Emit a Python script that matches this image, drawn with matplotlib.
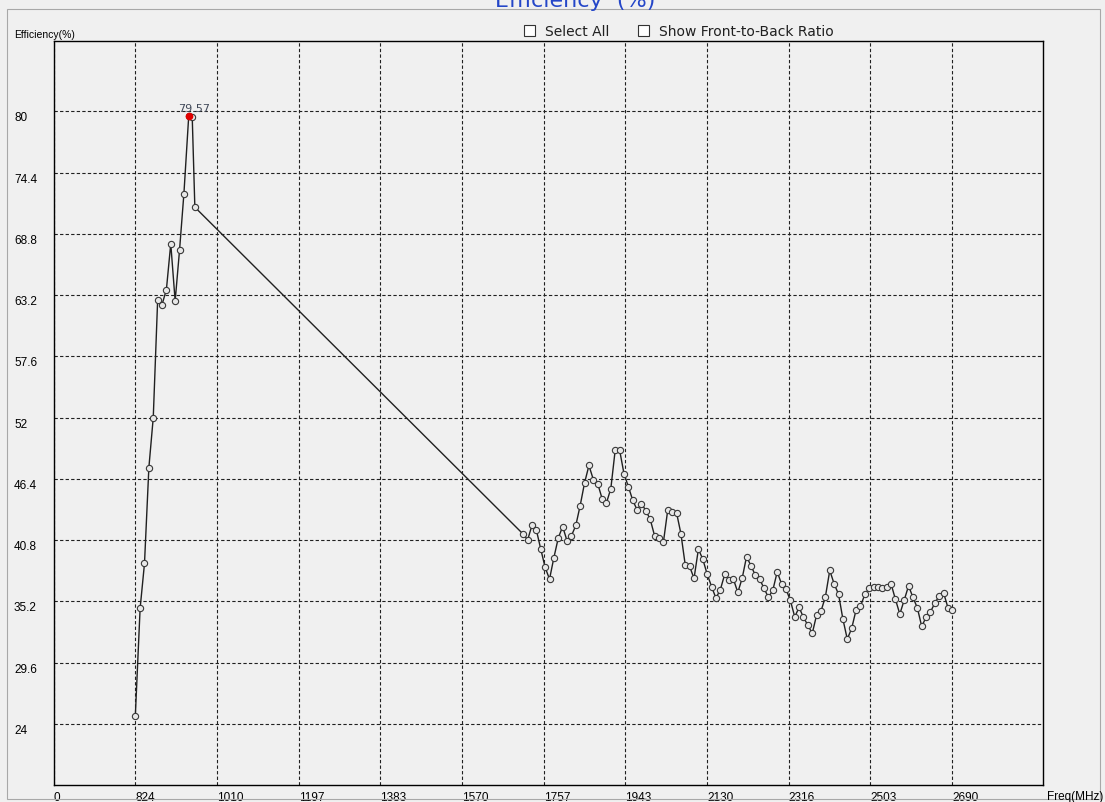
import matplotlib
matplotlib.use("Agg")
import matplotlib.pyplot as plt
from matplotlib.patches import Rectangle

# low band samples (MHz, %)
low_freq = [824, 835, 845, 855, 865, 875, 885, 895, 905, 915, 925, 935, 946, 954, 960]
low_eff = [24.7, 34.57, 38.68, 47.44, 52.0, 62.72, 62.33, 63.7, 67.9, 62.66,
           67.3, 72.47, 79.57, 79.5, 71.24]

# high band samples, 10 MHz steps from 1710 to 2690
high_freq = list(range(1710, 2691, 10))
high_eff = [41.35, 40.83, 42.17, 41.72, 39.98, 38.31, 37.24, 39.22, 41.01, 42.05,
            40.74, 41.2, 42.15, 43.97, 46.04, 47.63, 46.35, 45.98, 44.61, 44.21,
            45.52, 49.05, 49.05, 46.89, 45.7, 44.46, 43.57, 44.15, 43.5, 42.7,
            41.2, 40.96, 40.6, 43.57, 43.39, 43.33, 41.41, 38.52, 38.4, 37.31,
            39.98, 39.07, 37.7, 36.57, 35.51, 36.27, 37.67, 37.18, 37.24, 36.03,
            37.33, 39.31, 38.46, 37.61, 37.24, 36.39, 35.57, 36.24, 37.91, 36.79,
            36.33, 35.3, 33.8, 34.66, 33.74, 33.04, 32.28, 33.98, 34.32, 35.63,
            38.04, 36.81, 35.87, 33.59, 31.76, 32.74, 34.41, 34.75, 35.84, 36.39,
            36.51, 36.51, 36.42, 36.51, 36.81, 35.39, 34.05, 35.33, 36.63, 35.57,
            34.62, 32.92, 33.77, 34.26, 35.05, 35.72, 35.99, 34.62, 34.38]

peak_freq = 946
peak_eff = 79.57

x_tick_pos = [637.4, 824, 1010, 1197, 1383, 1570, 1757, 1943, 2130, 2316, 2503, 2690]
x_tick_labels = ["0", "824", "1010", "1197", "1383", "1570", "1757", "1943",
                 "2130", "2316", "2503", "2690"]
y_tick_pos = [24, 29.6, 35.2, 40.8, 46.4, 52, 57.6, 63.2, 68.8, 74.4, 80]
y_tick_labels = ["24", "29.6", "35.2", "40.8", "46.4", "52", "57.6", "63.2",
                 "68.8", "74.4", "80"]

bg = "#f0f0f0"
narrow = ["Liberation Sans Narrow", "Liberation Sans", "DejaVu Sans"]

fig = plt.figure(figsize=(11.05, 8.03), dpi=100, facecolor=bg)
ax = fig.add_axes([0.0485, 0.0208, 0.8954, 0.9265])
ax.set_facecolor(bg)

freq = low_freq + high_freq
eff = low_eff + high_eff
ax.plot(freq, eff, color="#202020", lw=1.0, marker="o", ms=4.5,
        mfc="#e8e8e8", mec="#383838", mew=0.8, zorder=3)
ax.plot([peak_freq], [peak_eff], "o", color="#e00000", ms=4.5, zorder=4)
ax.annotate(f"{peak_eff:.2f}", (peak_freq, peak_eff), xytext=(4, 2),
            textcoords="offset points", ha="center", va="bottom",
            fontsize=8, color="#404858")

ax.set_xlim(637.4, 2897)
ax.set_ylim(18.4, 86.4)

ax.set_xticks(x_tick_pos)
ax.set_xticklabels(x_tick_labels, fontsize=8.5, family=narrow, ha="left")
ax.set_yticks(y_tick_pos)
ax.set_yticklabels(y_tick_labels, fontsize=8.5, family=narrow, ha="left", va="top")
ax.tick_params(axis="x", length=0, pad=4)
ax.tick_params(axis="y", length=0, pad=28.5)

ax.grid(True, color="#202020", lw=0.8, linestyle=(0, (3, 2)))
for s in ax.spines.values():
    s.set_color("black")
    s.set_linewidth(1.0)

# panel border
fig.patches.append(Rectangle((7 / 1105, 3 / 803), 1093 / 1105, 790 / 803,
                             transform=fig.transFigure, fill=False,
                             edgecolor="#a8a8a8", lw=0.8))

fig.text(575 / 1105, 1 - 7 / 803, "Efficiency  (%)", ha="center", va="baseline",
         fontsize=16, color="#2446c8")
fig.text(14 / 1105, 1 - 35 / 803, "Efficiency(%)", ha="left", va="center",
         fontsize=7.5, family=narrow)
fig.text(1047 / 1105, 1 - 797 / 803, "Freq(MHz)", ha="left", va="center",
         fontsize=8.5, family=narrow)

# checkboxes
for bx, label in [(524, "Select All"), (638, "Show Front-to-Back Ratio")]:
    fig.patches.append(Rectangle((bx / 1105, 1 - 37 / 803), 11 / 1105, 11 / 803,
                                 transform=fig.transFigure, facecolor="white",
                                 edgecolor="#333333", lw=0.8))
    fig.text((bx + 21) / 1105, 1 - 32 / 803, label, ha="left", va="center",
             fontsize=10, family=["DejaVu Sans"], color="#202020")

fig.savefig("out.png", dpi=100, facecolor=bg)
